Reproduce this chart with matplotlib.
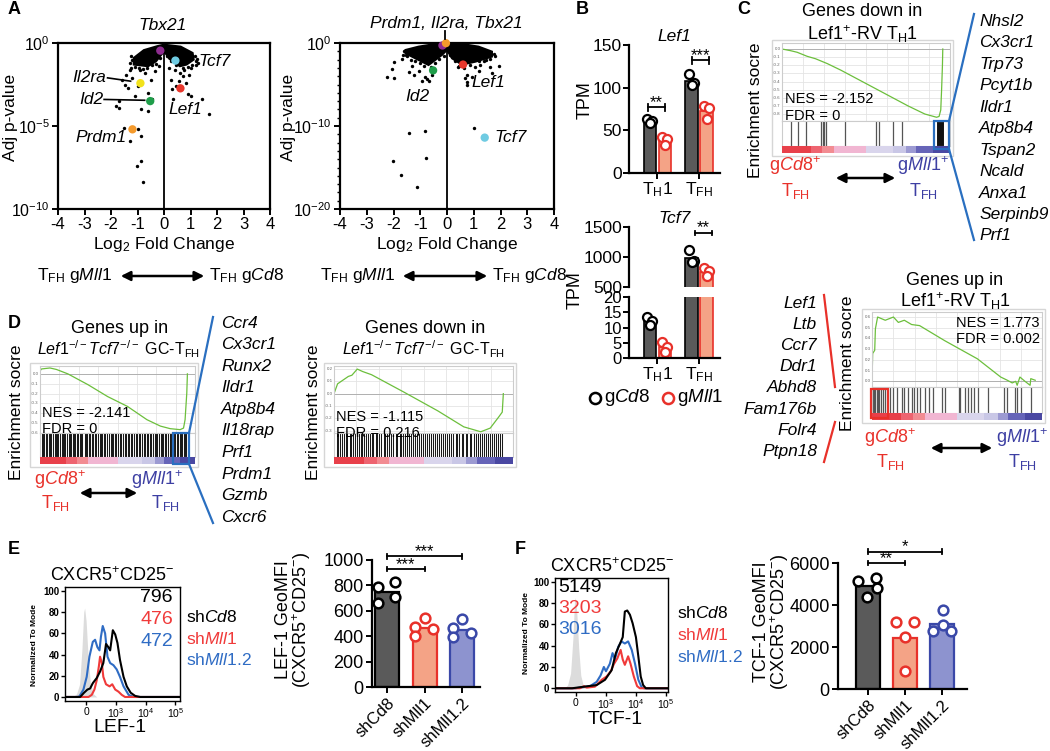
import numpy as np
import matplotlib
matplotlib.use('Agg')
import matplotlib.pyplot as plt
from matplotlib.lines import Line2D
from matplotlib.patches import Rectangle, FancyArrowPatch

plt.rcParams['font.family'] = ['Liberation Sans', 'DejaVu Sans']
plt.rcParams['mathtext.fontset'] = 'custom'
plt.rcParams['mathtext.rm'] = 'Liberation Sans'
plt.rcParams['mathtext.it'] = 'Liberation Sans:italic'
plt.rcParams['mathtext.bf'] = 'Liberation Sans:bold'

# ---------------- data ----------------
# A: volcano plots (log2 fold change, -log10 adj p)
volc1_blob_x = [-1.14, -0.76, -0.25, 0.0, 0.63, 1.08, 1.12, 0.85, 0.6, 0.2, 0.05, -0.05, -0.3, -0.6, -1.14]
volc1_blob_v = [0.9, 0.43, 0.19, 0.1, 0.22, 0.6, 1.0, 1.3, 1.4, 0.95, 0.6, 0.6, 1.1, 1.4, 1.3]
volc1_x = [-1.83, -1.7, -1.47, -1.35, -1.19, -1.0, -0.88, -0.62, -1.51, -1.28, -1.0, -0.88, -1.03, -0.88,
           -0.81, 0.27, 0.46, 0.71, 0.89, 1.0, 1.43, 1.69, 0.33, 0.59, 0.84, -1.3, -1.45, -0.7, -0.5, -0.35,
           -1.6, -0.9, 0.4, 0.75, 1.0, 1.2, 0.2, -0.2, -0.6, -1.1, -1.7, -0.45, 0.3, 0.55, -1.25, 0.95,
           -1.2, -1.25, -1.1, -0.95, -0.8, -0.65, -0.45, -0.3, -0.15, 0.1, 0.25, 0.45, 0.7, 0.9, 1.05,
           1.2, 1.18, 1.25, -1.3, 1.3]
volc1_v = [3.8, 3.9, 2.53, 2.7, 2.1, 2.6, 4.0, 4.1, 5.1, 5.9, 5.2, 5.6, 7.4, 7.1,
           8.35, 2.2, 2.6, 2.0, 3.1, 3.2, 3.4, 4.3, 3.4, 1.8, 2.4, 1.6, 1.9, 1.8, 2.2, 1.7,
           2.2, 1.6, 1.6, 1.6, 1.5, 1.3, 1.5, 1.4, 3.0, 3.2, 3.5, 3.4, 2.8, 2.3, 1.5, 1.9,
           1.0, 0.8, 1.45, 1.5, 1.55, 1.5, 1.3, 1.25, 0.9, 0.8, 1.1, 1.35, 1.5, 1.45, 1.35,
           1.1, 0.8, 0.95, 1.2, 1.2]
volc1_gx = [-0.14, 0.43, -0.89, 0.62, -0.52, -1.19]
volc1_gv = [0.46, 1.06, 2.42, 2.73, 3.5, 5.2]

volc2_blob_x = [-1.55, -1.06, -0.44, 0.0, 0.56, 1.18, 1.68, 1.68, 1.06, 0.56, 0.19, 0.0, -0.19, -0.69, -1.18, -1.55]
volc2_blob_v = [0.84, 0.44, 0.12, 0.0, 0.12, 0.44, 1.04, 1.64, 2.25, 2.6, 1.85, 0.84, 1.44, 2.65, 1.85, 1.24]
volc2_x = [-1.99, -2.05, -2.24, -1.99, -1.43, -1.25, -1.06, -0.81, -0.75, -0.69, -0.94, -0.56, -1.55,
           1.06, 1.24, 1.62, 1.93, 1.68, 0.75, 0.94, 0.75, 0.75, 0.69, 1.18,
           -1.43, -0.84, -0.78, -2.02, -1.71, -1.12, 1.0, -1.7, -1.3, 0.4, 1.4,
           -1.6, -1.65, -1.5, -1.35, -1.2, -1.0, -0.85, -0.6, -0.45, -0.3, -0.1, 0.1, 0.3, 0.45, 0.65,
           0.85, 1.2, 1.45, 1.75, 1.8, 1.6]
volc2_v = [2.25, 3.1, 4.1, 4.2, 3.5, 3.85, 3.35, 4.1, 4.3, 4.6, 4.6, 3.85, 1.4,
           2.85, 2.65, 2.85, 2.75, 3.6, 3.85, 4.1, 4.7, 5.1, 4.25, 3.35,
           10.8, 10.6, 13.9, 14.2, 15.9, 17.3, 10.2, 1.9, 2.8, 2.9, 2.2,
           1.0, 1.4, 1.6, 2.0, 2.2, 2.4, 2.8, 2.9, 2.4, 1.9, 1.6, 1.5, 2.2, 2.8, 3.0,
           2.6, 2.2, 2.0, 1.3, 1.6, 1.9]
volc2_gx = [-0.17, 0.6, -0.52, 1.41, -0.04]
volc2_gv = [0.3, 2.6, 3.3, 11.4, 0.02]

# B: TPM
b_cats = ['T$_\\mathregular{H}$1', 'T$_\\mathregular{FH}$']
lef1_cd8 = [[63, 61, 59], [116, 105, 103]]
lef1_mll1 = [[42, 40, 33], [78, 76, 63]]
tcf7_cd8 = [[13.4, 12.2, 10.9], [1120, 930, 920]]
tcf7_mll1 = [[5.2, 3.5, 2.0], [820, 760, 690]]

# C/D: GSEA running enrichment scores
c1_x = [0, 0.05, 0.09, 0.15, 0.2, 0.27, 0.35, 0.45, 0.55, 0.65, 0.75, 0.85, 0.92, 0.935, 0.945, 0.95, 0.955, 0.957]
c1_y = [0, -0.02, -0.04, -0.09, -0.12, -0.18, -0.26, -0.37, -0.48, -0.59, -0.70, -0.80, -0.84, -0.83, -0.75, -0.5, -0.2, 0.0]
c1_hits = [0.053, 0.093, 0.145, 0.234, 0.242, 0.25, 0.259, 0.376, 0.558, 0.578, 0.659, 0.717]
c1_core = [0.927, 0.932, 0.936, 0.94, 0.944, 0.947, 0.95, 0.953, 0.956]
c1_genes = ['Nhsl2', 'Cx3cr1', 'Trp73', 'Pcyt1b', 'Ildr1', 'Atp8b4', 'Tspan2', 'Ncald', 'Anxa1', 'Serpinb9', 'Prf1']

c2_x = [0, 0.004, 0.016, 0.02, 0.033, 0.078, 0.126, 0.155, 0.19, 0.233, 0.28, 0.427, 0.62, 0.757, 0.796,
        0.825, 0.845, 0.854, 0.87, 0.9, 0.93, 0.934, 0.96]
c2_y = [0, 0.26, 0.29, 0.49, 0.6, 0.57, 0.6, 0.55, 0.57, 0.53, 0.52, 0.38, 0.21, 0.04, 0.01,
        -0.015, 0.0, -0.037, 0.04, 0.0, -0.037, 0.025, 0.01]
c2_hits = [0.006, 0.014, 0.019, 0.027, 0.035, 0.043, 0.052, 0.062, 0.074, 0.107, 0.126, 0.148, 0.179, 0.188,
           0.214, 0.233, 0.245, 0.264, 0.283, 0.311, 0.334, 0.359, 0.414, 0.431, 0.509, 0.518, 0.548, 0.565,
           0.584, 0.602, 0.621, 0.685, 0.777, 0.796, 0.839, 0.85, 0.874, 0.936]
c2_genes = ['Lef1', 'Ltb', 'Ccr7', 'Ddr1', 'Abhd8', 'Fam176b', 'Folr4', 'Ptpn18']

d1_x = [0, 0.01, 0.064, 0.106, 0.18, 0.31, 0.436, 0.564, 0.69, 0.777, 0.84, 0.904, 0.926, 0.936, 0.947, 0.951]
d1_y = [0.03, 0.05, 0.06, 0.045, 0.0, -0.11, -0.23, -0.33, -0.465, -0.53, -0.556, -0.566, -0.55, -0.465, -0.195, 0.0]
d1_hits = [0.012, 0.021, 0.028, 0.04, 0.047, 0.058, 0.066, 0.071, 0.083, 0.094, 0.101, 0.112, 0.118, 0.127,
           0.139, 0.146, 0.152, 0.163, 0.171, 0.184, 0.192, 0.198, 0.21, 0.222, 0.229, 0.236, 0.248, 0.257,
           0.266, 0.274, 0.288, 0.295, 0.303, 0.317, 0.324, 0.335, 0.342, 0.356, 0.363, 0.371, 0.384, 0.392,
           0.401, 0.413, 0.42, 0.433, 0.447, 0.455, 0.462, 0.474, 0.486, 0.493, 0.505, 0.517, 0.524, 0.538,
           0.546, 0.553, 0.567, 0.575, 0.588, 0.596, 0.609, 0.617, 0.626, 0.638, 0.645, 0.657, 0.668, 0.676,
           0.689, 0.697, 0.71, 0.718, 0.727, 0.739, 0.748, 0.757, 0.766, 0.778, 0.787, 0.795, 0.807, 0.815,
           0.824, 0.836, 0.845, 0.856, 0.867, 0.874, 0.886, 0.893, 0.902, 0.911, 0.919, 0.928, 0.937, 0.945]
d1_genes = ['Ccr4', 'Cx3cr1', 'Runx2', 'Ildr1', 'Atp8b4', 'Il18rap', 'Prf1', 'Prdm1', 'Gzmb', 'Cxcr6']

d2_x = [0, 0.02, 0.05, 0.08, 0.1, 0.13, 0.16, 0.21, 0.39, 0.58, 0.725, 0.82, 0.873, 0.92, 0.94, 0.946]
d2_y = [0, 0.08, 0.11, 0.14, 0.15, 0.2, 0.18, 0.154, 0.013, -0.14, -0.27, -0.31, -0.28, -0.19, -0.15, 0.0]
d2_hits = [0.015, 0.024, 0.036, 0.043, 0.055, 0.068, 0.074, 0.088, 0.096, 0.108, 0.115, 0.131, 0.137, 0.149,
           0.158, 0.166, 0.181, 0.189, 0.203, 0.212, 0.219, 0.233, 0.241, 0.254, 0.262, 0.279, 0.286, 0.298,
           0.31, 0.321, 0.329, 0.345, 0.353, 0.366, 0.375, 0.388, 0.397, 0.409, 0.418, 0.43, 0.442, 0.451,
           0.466, 0.473, 0.485, 0.497, 0.508, 0.521, 0.529, 0.544, 0.552, 0.565, 0.578, 0.586, 0.599, 0.611,
           0.62, 0.634, 0.643, 0.655, 0.664, 0.679, 0.688, 0.701, 0.713, 0.722, 0.736, 0.745, 0.759, 0.768,
           0.781, 0.792, 0.803, 0.816, 0.826, 0.838, 0.849, 0.862, 0.871, 0.884, 0.895, 0.906, 0.918, 0.929, 0.941]

cbar_edges = [0, 0.17, 0.24, 0.31, 0.5, 0.66, 0.74, 0.8, 0.9, 1.0]
cbar_colors = ['#e8404a', '#ee6470', '#f28c92', '#f1b6d2', '#d9d5ec', '#c9c7e6', '#9c9ad2', '#6664b8', '#4a48a2']

# E/F: flow histograms (x: 0 -> 0, 1 -> 10^3, 2 -> 10^4, 3 -> 10^5)
e_gray_x = [-0.45, -0.32, -0.22, -0.14, -0.08, -0.05, 0.0, 0.06, 0.14, 0.24, 0.36]
e_gray_y = [0, 3, 12, 45, 80, 84, 72, 42, 14, 3, 0]
e_blue_x = [-0.75, -0.3, -0.225, -0.09, 0.02, 0.112, 0.225, 0.303, 0.38, 0.45, 0.5, 0.56, 0.64, 0.72, 0.81,
            0.92, 1.03, 1.14, 1.26, 1.43, 1.6, 3.2]
e_blue_y = [0, 0, 0.6, 7, 19, 38, 52, 54, 47, 44, 57, 67, 60, 38, 32, 30, 26, 19, 10, 2, 0, 0]
e_black_x = [-0.75, -0.2, -0.07, 0.045, 0.135, 0.225, 0.36, 0.47, 0.58, 0.67, 0.75, 0.81, 0.9, 0.98, 1.055,
             1.14, 1.26, 1.37, 1.5, 1.65, 1.82, 3.2]
e_black_y = [0, 0, 4, 7, 8, 13, 18, 24, 32, 50, 47, 44, 63, 59, 51, 35, 19, 10, 4, 1, 0, 0]
e_red_x = [-0.75, 0.08, 0.19, 0.28, 0.36, 0.43, 0.47, 0.53, 0.58, 0.67, 0.79, 0.88, 0.98, 1.09, 1.2, 1.31, 3.2]
e_red_y = [0, 0, 2, 7, 16, 29, 38, 32, 19, 12, 10, 12, 7, 5, 2, 0, 0]
e_mfi = ['796', '476', '472']

f_gray_x = [-0.4, -0.28, -0.18, -0.1, -0.05, -0.02, 0.03, 0.09, 0.16, 0.24, 0.34]
f_gray_y = [0, 3, 14, 48, 82, 85, 70, 38, 12, 3, 0]
f_black_x = [-0.75, -0.13, 0.3, 0.69, 0.97, 1.19, 1.33, 1.47, 1.56, 1.63, 1.71, 1.8, 1.89, 2.0, 2.08, 2.16, 2.24, 2.33, 3.1]
f_black_y = [0, 0, 1.6, 3, 8, 17, 33, 42, 48, 72, 73, 69, 61, 48, 30, 11, 3, 0, 0]
f_blue_x = [-0.75, -0.02, 0.47, 0.69, 0.82, 0.93, 1.0, 1.13, 1.22, 1.3, 1.41, 1.52, 1.63, 1.74, 1.86, 1.97,
            2.08, 2.19, 2.27, 3.1]
f_blue_y = [0, 0, 2, 6, 12, 20, 16, 23, 33, 27, 39, 44, 42, 44, 36, 23, 8, 1, 0, 0]
f_red_x = [-0.75, 0.13, 0.27, 0.36, 0.63, 0.86, 1.02, 1.16, 1.27, 1.38, 1.49, 1.56, 1.63, 1.74, 1.82, 1.93,
           2.04, 2.13, 3.1]
f_red_y = [0, 0, 2, 0.6, 1.5, 8, 11, 16, 23, 28, 36, 27, 22, 30, 23, 11, 2, 0, 0]
f_mfi = ['5149', '3203', '3016']

# E/F: GeoMFI bars
sh_groups = ['shCd8', 'shMll1', 'shMll1.2']
lef_bar = [750, 465, 450]
lef_dx = [[-0.25, -0.25, 0.22, 0.22], [-0.25, -0.25, 0.0, 0.22], [-0.23, -0.23, 0.0, 0.23]]
lef_dots = [[790, 663, 824, 710], [474, 400, 540, 453], [466, 395, 532, 426]]
tcf_bar = [4900, 2420, 3080]
tcf_dx = [[-0.26, -0.02, 0.22, 0.25], [-0.24, 0.0, 0.0, 0.24], [-0.23, 0.02, 0.02, 0.26]]
tcf_dots = [[5145, 4385, 5303, 4828], [3182, 2454, 855, 3182], [2770, 3752, 3024, 2770]]

# ---------------- helpers ----------------
W, H = 1050, 751
fig = plt.figure(figsize=(10.5, 7.51), dpi=100)

RED = '#e8312a'
IND = '#3d3fa3'
HBLUE = '#2f6cc4'
GREEN = '#6cbf3c'


def add_ax(l, t, r, b):
    return fig.add_axes([l / W, 1 - b / H, (r - l) / W, (b - t) / H])


def ftext(x, y, s, **kw):
    kw.setdefault('ha', 'center')
    kw.setdefault('va', 'center')
    return fig.text(x / W, 1 - y / H, s, **kw)


def fline(xs, ys, **kw):
    fig.add_artist(Line2D([x / W for x in xs], [1 - y / H for y in ys], transform=fig.transFigure, **kw))


def farrow(x0, x1, y):
    fig.add_artist(FancyArrowPatch((x0 / W, 1 - y / H), (x1 / W, 1 - y / H), transform=fig.transFigure,
                                   arrowstyle='<|-|>', mutation_scale=14, lw=1.8, color='black'))


def frect(l, t, r, b, color, lw=1.6):
    fig.add_artist(Rectangle((l / W, 1 - b / H), (r - l) / W, (b - t) / H, transform=fig.transFigure,
                             fill=False, edgecolor=color, lw=lw))


def bracket(ax, x0, x1, y, cap, label, fs=11, dy=0.0):
    ax.plot([x0, x1], [y, y], color='black', lw=1.3, clip_on=False)
    ax.plot([x0, x0], [y - cap, y + cap], color='black', lw=1.3, clip_on=False)
    ax.plot([x1, x1], [y - cap, y + cap], color='black', lw=1.3, clip_on=False)
    ax.text((x0 + x1) / 2, y + dy, label, ha='center', va='bottom', fontsize=fs, clip_on=False)


# ---------------- A: volcano plots ----------------
def volcano(box, ymin_exp, bx, bv, sx, sv, gx, gv, gcols, minor):
    ax = add_ax(*box)
    ax.fill(bx, [10 ** (-v) for v in bv], color='black', lw=1.5, edgecolor='black')
    ax.scatter(sx, [10 ** (-v) for v in sv], s=6, color='black', lw=0)
    ax.scatter(gx, [10 ** (-v) for v in gv], s=36, c=gcols, lw=0, zorder=5, clip_on=False)
    ax.set_yscale('log')
    ax.set_ylim(10 ** ymin_exp, 1)
    ax.set_xlim(-4, 4)
    ax.axvline(0, color='black', lw=1.3)
    ax.set_xticks(range(-4, 5))
    ax.set_xticklabels([str(v) for v in range(-4, 5)])
    mid = ymin_exp // 2
    ax.set_yticks([10 ** ymin_exp, 10 ** mid, 1])
    ax.set_yticklabels(['10$^{%d}$' % ymin_exp, '10$^{%d}$' % mid, '10$^{0}$'])
    if minor:
        ax.set_yticks([10 ** e for e in range(ymin_exp, 1)], minor=True)
        ax.tick_params(axis='y', which='minor', length=2.5, width=1, labelleft=False)
    else:
        ax.yaxis.set_minor_locator(matplotlib.ticker.NullLocator())
    for s in ax.spines.values():
        s.set_linewidth(1.6)
    ax.tick_params(axis='both', which='major', length=4, width=1.4, labelsize=12, pad=2)
    for lab in ax.get_yticklabels():
        lab.set_fontsize(11.5)
    ax.set_xlabel('Log$_2$ Fold Change', fontsize=12.5, labelpad=2)
    return ax


gcol1 = ['#8e2c90', '#6fcbe2', '#f2e21b', '#e8372c', '#1f9e4a', '#f49a2c']
ax1 = volcano((58, 43, 270, 209), -10, volc1_blob_x, volc1_blob_v, volc1_x, volc1_v,
              volc1_gx, volc1_gv, gcol1, False)
ax1.plot([-2.13, -1.26], [10 ** -2.1, 10 ** -2.3], color='black', lw=1.2)
ax1.plot([-2.26, -0.73], [10 ** -3.4, 10 ** -3.45], color='black', lw=1.2)
gi = dict(fontsize=12.5, style='italic')
ax1.text(-2.2, 10 ** -2.05, 'Il2ra', ha='right', va='center', **gi)
ax1.text(-2.3, 10 ** -3.4, 'Id2', ha='right', va='center', **gi)
ax1.text(-1.4, 10 ** -5.7, 'Prdm1', ha='right', va='center', **gi)
ax1.text(0.18, 10 ** -4.0, 'Lef1', ha='left', va='center', **gi)
ax1.text(1.3, 10 ** -1.1, 'Tcf7', ha='left', va='center', **gi)
ftext(163, 25, 'Tbx21', **gi)
ftext(11, 117, 'Adj p-value', rotation=90, fontsize=12.5)

gcol2 = ['#8e2c90', '#e8372c', '#1f9e4a', '#6fcbe2', '#f49a2c']
ax2 = volcano((340, 43, 554, 209), -20, volc2_blob_x, volc2_blob_v, volc2_x, volc2_v,
              volc2_gx, volc2_gv, gcol2, True)
ax2.text(0.9, 10 ** -4.7, 'Lef1', ha='left', va='center', **gi)
ax2.text(-1.1, 10 ** -6.5, 'Id2', ha='center', va='center', **gi)
ax2.text(1.78, 10 ** -11.4, 'Tcf7', ha='left', va='center', **gi)
ftext(446, 23, 'Prdm1, Il2ra, Tbx21', **gi)
fline([445, 445], [31, 39], color='black', lw=1.3)
ftext(289, 117, 'Adj p-value', rotation=90, fontsize=12.5)

for (xe, x0, x1) in [(112, 118, 207), (395, 400, 490)]:
    ftext(xe, 275, 'T$_\\mathregular{FH}$ g$\\mathit{Mll1}$', ha='right', fontsize=12.5)
    farrow(x0, x1, 276)
    ftext(x1 + 2, 275, 'T$_\\mathregular{FH}$ g$\\mathit{Cd8}$', ha='left', fontsize=12.5)


# ---------------- B: TPM bar charts ----------------
def tpm_bars(ax, cd8, mll1):
    for i in range(2):
        ax.bar(i - 0.18, np.mean(cd8[i]), width=0.3, color='#5a5a5a', edgecolor='black', lw=1.2)
        ax.bar(i + 0.18, np.mean(mll1[i]), width=0.3, color='#f4a386', edgecolor=RED, lw=1.2)
        ax.plot([i - 0.24, i - 0.12, i - 0.18], cd8[i], 'o', ms=6.5, mfc='white', mec='black', mew=1.6)
        ax.plot([i + 0.12, i + 0.24, i + 0.18], mll1[i], 'o', ms=6.5, mfc='white', mec=RED, mew=1.6)
    ax.set_xlim(-0.68, 1.5)
    for s in ['top', 'right']:
        ax.spines[s].set_visible(False)
    for s in ['left', 'bottom']:
        ax.spines[s].set_linewidth(1.6)
    ax.tick_params(length=4, width=1.4, labelsize=12.5, pad=1)


axb1 = add_ax(629, 45, 720, 173)
tpm_bars(axb1, lef1_cd8, lef1_mll1)
axb1.set_ylim(0, 150)
axb1.set_yticks([0, 50, 100, 150])
axb1.set_xticks([0, 1])
axb1.set_xticklabels(b_cats)
bracket(axb1, -0.23, 0.18, 77, 4, '**', fs=12, dy=-3)
bracket(axb1, 0.83, 1.24, 132, 4, '***', fs=12, dy=-3)
axb1.set_title('Lef1', fontsize=12.5, style='italic', pad=3)
ftext(585, 100, 'TPM', rotation=90, fontsize=13)

axb2 = add_ax(629, 227, 720, 287)
tpm_bars(axb2, tcf7_cd8, tcf7_mll1)
axb2.set_ylim(500, 1500)
axb2.set_yticks([500, 1000, 1500])
axb2.spines['bottom'].set_visible(False)
axb2.set_xticks([])
bracket(axb2, 0.9, 1.31, 1400, 40, '**', fs=12, dy=-30)
axb2.set_title('Tcf7', fontsize=12.5, style='italic', pad=3)

axb3 = add_ax(629, 297, 720, 358)
tpm_bars(axb3, tcf7_cd8, tcf7_mll1)
axb3.set_ylim(0, 20)
axb3.set_yticks([0, 5, 10, 15, 20])
axb3.tick_params(axis='y', labelsize=12, pad=1)
axb3.set_xticks([0, 1])
axb3.set_xticklabels(b_cats)
ftext(575, 290, 'TPM', rotation=90, fontsize=13)

fig.add_artist(Line2D([595 / W], [1 - 398 / H], marker='o', ms=8, mfc='white', mec='black', mew=1.8,
                      transform=fig.transFigure))
ftext(604, 398, 'g$\\mathit{Cd8}$', ha='left', fontsize=13.5)
fig.add_artist(Line2D([668 / W], [1 - 398 / H], marker='o', ms=8, mfc='white', mec=RED, mew=1.8,
                      transform=fig.transFigure))
ftext(677, 398, 'g$\\mathit{Mll1}$', ha='left', fontsize=13.5)


# ---------------- C/D: GSEA plots ----------------
def gsea(l, r, t, cb, hb, bb, cx, cy, ylim, yt, hits, hit_col='#555555', hit_lw=0.9, core=None):
    ax = add_ax(l, t, r, cb)
    for g in [0.125, 0.25, 0.375, 0.5, 0.625, 0.75, 0.875]:
        ax.axvline(g, color='#e4e4e4', lw=0.6, zorder=0)
    for v in yt:
        ax.axhline(v, color='#e4e4e4', lw=0.6, zorder=0)
        ax.text(-0.008, v, '%.1f' % v, transform=ax.get_yaxis_transform(), fontsize=3.2,
                color='#666666', va='center', ha='right')
    ax.axhline(0, color='#b0b0b0', lw=0.7, zorder=0)
    ax.plot(cx, cy, color=GREEN, lw=0.9)
    ax.set_xlim(0, 1)
    ax.set_ylim(*ylim)
    ax.set_xticks([])
    ax.set_yticks([])
    for s in ax.spines.values():
        s.set_color('#cccccc')
        s.set_linewidth(0.8)
    axh = add_ax(l, cb, r, hb)
    axh.vlines(hits, 0, 1, colors=hit_col, lw=hit_lw)
    if core is not None:
        axh.vlines(core, 0, 1, colors='#111111', lw=1.4)
    axh.set_xlim(0, 1)
    axh.set_ylim(0, 1)
    axh.set_xticks([])
    axh.set_yticks([])
    for s in axh.spines.values():
        s.set_color('#cccccc')
        s.set_linewidth(0.8)
    axc = add_ax(l, hb, r, bb)
    for i, c in enumerate(cbar_colors):
        axc.axvspan(cbar_edges[i], cbar_edges[i + 1], color=c, lw=0)
    axc.set_xlim(0, 1)
    axc.set_axis_off()
    frect(l - 10, t - 3, r + 3, bb + 3, '#d6d6d6', lw=1.0)
    return ax


yl = dict(rotation=90, fontsize=12.5)
tl = dict(fontsize=13)
nes = dict(fontsize=10.5)

# C top
gsea(782, 950, 43, 121, 146, 153, c1_x, c1_y, (-0.886, 0.074),
     [0.0, -0.1, -0.2, -0.3, -0.4, -0.5, -0.6, -0.7, -0.8], c1_hits, core=c1_core)
ftext(862, 12, 'Genes down in', **tl)
ftext(862, 34, 'Lef1$^{+}$-RV T$_\\mathregular{H}$1', **tl)
ftext(755, 110, 'Enrichment socre', **yl)
ftext(785, 99, 'NES = -2.152', ha='left', **nes)
ftext(785, 116, 'FDR = 0', ha='left', **nes)
frect(934, 121, 949, 149, '#2a6fc0')
fline([949, 974], [121, 14], color='#2a6fc0', lw=1.6)
fline([949, 974], [149, 240], color='#2a6fc0', lw=1.6)
for i, g in enumerate(c1_genes):
    ftext(979, 21 + i * 21.5, g, ha='left', fontsize=12.5, style='italic')
ftext(795, 166, 'g$\\mathit{Cd8}^{+}$', color=RED, fontsize=13)
ftext(795, 191, 'T$_\\mathregular{FH}$', color=RED, fontsize=13)
ftext(923, 166, 'g$\\mathit{Mll1}^{+}$', color=IND, fontsize=13)
ftext(923, 191, 'T$_\\mathregular{FH}$', color=IND, fontsize=13)
farrow(833, 898, 178)

# C bottom
gsea(872, 1042, 312, 387, 413, 420, c2_x, c2_y, (-0.053, 0.647),
     [0.0, 0.1, 0.2, 0.3, 0.4, 0.5, 0.6], c2_hits)
ftext(955, 280, 'Genes up in', **tl)
ftext(955, 301, 'Lef1$^{+}$-RV T$_\\mathregular{H}$1', **tl)
ftext(847, 363, 'Enrichment socre', **yl)
ftext(1040, 323, 'NES = 1.773', ha='right', **nes)
ftext(1040, 339, 'FDR = 0.002', ha='right', **nes)
frect(871, 389, 888, 418, RED)
fline([824, 835], [295, 387], color=RED, lw=1.6)
fline([835, 824], [422, 462], color=RED, lw=1.6)
for i, g in enumerate(c2_genes):
    ftext(817, 303 + i * 21.2, g, ha='right', fontsize=12.5, style='italic')
ftext(890, 438, 'g$\\mathit{Cd8}^{+}$', color=RED, fontsize=13)
ftext(890, 462, 'T$_\\mathregular{FH}$', color=RED, fontsize=13)
ftext(1022, 438, 'g$\\mathit{Mll1}^{+}$', color=IND, fontsize=13)
ftext(1022, 462, 'T$_\\mathregular{FH}$', color=IND, fontsize=13)
farrow(928, 995, 448)

# D left
gsea(40, 195, 366, 433, 457, 464, d1_x, d1_y, (-0.6, 0.08),
     [0.0, -0.1, -0.2, -0.3, -0.4, -0.5, -0.6], d1_hits, hit_col='#1a1a1a', hit_lw=0.75)
ftext(120, 328, 'Genes up in', **tl)
ftext(118, 349, '$\\mathit{Lef1}^{-/-}\\mathit{Tcf7}^{-/-}$ GC-T$_\\mathregular{FH}$', fontsize=11.5)
ftext(17, 412, 'Enrichment socre', **yl)
ftext(42, 413, 'NES = -2.141', ha='left', **nes)
ftext(42, 429, 'FDR = 0', ha='left', **nes)
frect(173, 433, 189, 464, '#2a6fc0')
fline([189, 213], [433, 317], color='#2a6fc0', lw=1.6)
fline([189, 213], [464, 523], color='#2a6fc0', lw=1.6)
for i, g in enumerate(d1_genes):
    ftext(221, 323 + i * 21.6, g, ha='left', fontsize=12.5, style='italic')
ftext(60, 480, 'g$\\mathit{Cd8}^{+}$', color=RED, fontsize=13)
ftext(55, 503, 'T$_\\mathregular{FH}$', color=RED, fontsize=13)
ftext(157, 480, 'g$\\mathit{Mll1}^{+}$', color=IND, fontsize=13)
ftext(165, 503, 'T$_\\mathregular{FH}$', color=IND, fontsize=13)
farrow(77, 140, 493)

# D right
gsea(334, 513, 366, 433, 457, 464, d2_x, d2_y, (-0.32, 0.225),
     [0.2, 0.1, 0.0, -0.1, -0.2, -0.3], d2_hits, hit_col='#1a1a1a', hit_lw=0.75)
ftext(425, 328, 'Genes down in', **tl)
ftext(423, 349, '$\\mathit{Lef1}^{-/-}\\mathit{Tcf7}^{-/-}$ GC-T$_\\mathregular{FH}$', fontsize=11.5)
ftext(313, 412, 'Enrichment socre', **yl)
ftext(336, 417, 'NES = -1.115', ha='left', **nes)
ftext(336, 433, 'FDR = 0.216', ha='left', **nes)


# ---------------- E/F: histograms ----------------
def histo(box, xlim, ylim, gx, gy, curves):
    ax = add_ax(*box)
    ax.fill_between(gx, gy, color='#dcdcdc', lw=0)
    for cx, cy, c in curves:
        ax.plot(cx, cy, color=c, lw=1.5)
    ax.set_xlim(*xlim)
    ax.set_ylim(*ylim)
    ax.set_yticks([0, 20, 40, 60, 80, 100])
    ax.set_xticks([0, 1, 2, 3])
    ax.set_xticklabels(['0', '10$^3$', '10$^4$', '10$^5$'])
    for lab in ax.get_yticklabels():
        lab.set_fontweight('bold')
    ax.tick_params(axis='y', length=3, width=1, labelsize=7, pad=1)
    ax.tick_params(axis='x', length=3, width=1, labelsize=7.5, pad=1)
    for s in ax.spines.values():
        s.set_linewidth(1.0)
    return ax


histo((65, 587, 180, 701), (-0.71, 3.16), (-3.8, 103.8), e_gray_x, e_gray_y,
      [(e_blue_x, e_blue_y, HBLUE), (e_red_x, e_red_y, '#f03a3a'), (e_black_x, e_black_y, 'black')])
ftext(35, 645, 'Normalized To Mode', rotation=90, fontsize=6, fontweight='bold')
ftext(112, 576, 'CXCR5$^{+}$CD25$^{-}$', fontsize=13)
ftext(120, 727, 'LEF-1', fontsize=14)
for i, (t, c) in enumerate(zip(e_mfi, ['black', '#f03a3a', HBLUE])):
    ftext(173, 598 + i * 22, t, ha='right', color=c, fontsize=14)
leg_txt = ['sh$\\mathit{Cd8}$', 'sh$\\mathit{Mll1}$', 'sh$\\mathit{Mll1.2}$']
for i, (t, c) in enumerate(zip(leg_txt, ['black', '#f03a3a', HBLUE])):
    ftext(186, 617 + i * 21.5, t, ha='left', color=c, fontsize=12.5)

histo((555, 578, 668, 692), (-0.7, 3.07), (-3.5, 103.5), f_gray_x, f_gray_y,
      [(f_blue_x, f_blue_y, HBLUE), (f_red_x, f_red_y, '#f03a3a'), (f_black_x, f_black_y, 'black')])
ftext(527, 633, 'Normalized To Mode', rotation=90, fontsize=6, fontweight='bold')
ftext(612, 567, 'CXCR5$^{+}$CD25$^{-}$', fontsize=13)
ftext(615, 720, 'TCF-1', fontsize=14)
for i, (t, c) in enumerate(zip(f_mfi, ['black', '#f03a3a', HBLUE])):
    ftext(558, 587 + i * 21.5, t, ha='left', color=c, fontsize=14)
for i, (t, c) in enumerate(zip(leg_txt, ['black', '#f03a3a', HBLUE])):
    ftext(677, 613 + i * 22, t, ha='left', color=c, fontsize=12.5)


# ---------------- E/F: bar charts ----------------
def mfi_bars(box, xlim, ylim, yticks, bars, dx, dots):
    ax = add_ax(*box)
    faces = ['#5a5a5a', '#f4a386', '#8d93cf']
    edges = ['black', RED, '#3a48a8']
    for i in range(3):
        ax.bar(i, bars[i], width=0.64, color=faces[i], edgecolor=edges[i], lw=1.6)
        ax.plot([i + d for d in dx[i]], dots[i], 'o', ms=7, mfc='white', mec=edges[i], mew=1.8, clip_on=False)
    ax.set_xlim(*xlim)
    ax.set_ylim(*ylim)
    ax.set_yticks(yticks)
    ax.set_xticks([0, 1, 2])
    ax.set_xticklabels(sh_groups, rotation=45, ha='right', rotation_mode='anchor')
    for s in ['top', 'right']:
        ax.spines[s].set_visible(False)
    for s in ['left', 'bottom']:
        ax.spines[s].set_linewidth(1.6)
    ax.tick_params(length=4, width=1.4, labelsize=13, pad=2)
    for lab in ax.get_xticklabels():
        lab.set_fontsize(12)
    return ax


axe = mfi_bars((372, 560, 480, 687), (-0.4, 2.48), (0, 1000), [0, 200, 400, 600, 800, 1000],
               lef_bar, lef_dx, lef_dots)
bracket(axe, 0, 1, 930, 18, '***', fs=12, dy=-22)
bracket(axe, 0, 2, 1028, 18, '***', fs=12, dy=-22)
ftext(283, 620, 'LEF-1 GeoMFI', rotation=90, fontsize=13)
ftext(302, 620, '(CXCR5$^{+}$CD25$^{-}$)', rotation=90, fontsize=13)

axf = mfi_bars((838, 563, 967, 689), (-0.81, 2.68), (0, 6000), [0, 2000, 4000, 6000],
               tcf_bar, tcf_dx, tcf_dots)
bracket(axf, 0, 1, 6000, 110, '**', fs=12, dy=-130)
bracket(axf, 0, 2, 6540, 110, '*', fs=12, dy=-130)
ftext(762, 622, 'TCF-1 GeoMFI', rotation=90, fontsize=13)
ftext(780, 622, '(CXCR5$^{+}$CD25$^{-}$)', rotation=90, fontsize=13)

# panel letters
for (x, y, s) in [(8, 10, 'A'), (576, 9, 'B'), (737, 9, 'C'), (8, 323, 'D'), (8, 549, 'E'), (515, 549, 'F')]:
    ftext(x, y, s, ha='left', fontsize=13, fontweight='bold')

fig.savefig('out.png', dpi=100)
